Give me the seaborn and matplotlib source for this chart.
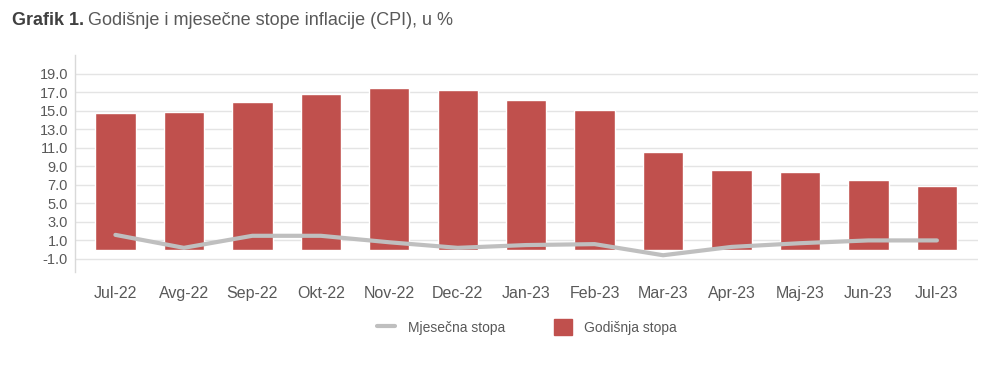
import matplotlib
matplotlib.use("Agg")
import matplotlib.pyplot as plt
import seaborn as sns
import pandas as pd
import numpy as np
from matplotlib.lines import Line2D
from matplotlib.patches import Patch

months = ["Jul-22", "Avg-22", "Sep-22", "Okt-22", "Nov-22", "Dec-22", "Jan-23",
          "Feb-23", "Mar-23", "Apr-23", "Maj-23", "Jun-23", "Jul-23"]
annual = [14.8, 14.9, 15.9, 16.8, 17.4, 17.2, 16.2, 15.1, 10.5, 8.6, 8.4, 7.5, 6.9]
monthly = [1.6, 0.2, 1.5, 1.5, 0.8, 0.2, 0.5, 0.6, -0.6, 0.3, 0.7, 1.0, 1.0]
yticks = [-1.0, 1.0, 3.0, 5.0, 7.0, 9.0, 11.0, 13.0, 15.0, 17.0, 19.0]

BAR = "#c0504d"
LINE = "#bfbfbf"
TXT = "#595959"

sns.set_theme(style="white")
plt.rcParams["font.family"] = ["Liberation Sans", "DejaVu Sans"]

df = pd.DataFrame({"month": months, "annual": annual, "monthly": monthly,
                   "pos": np.arange(len(months))})

fig = plt.figure(figsize=(10, 3.65), dpi=100)
ax = fig.add_axes([0.075, 0.255, 0.903, 0.594])

# light horizontal grid behind everything
ax.set_axisbelow(True)
for t in yticks:
    ax.axhline(t, color="#e4e4e4", lw=1, zorder=0)

sns.barplot(data=df, x="month", y="annual", color=BAR, width=0.59,
            saturation=1, ax=ax, zorder=2)
sns.lineplot(data=df, x="pos", y="monthly", color=LINE, lw=3, ax=ax, zorder=3)

ax.set_xlim(-0.59, 12.6)
ax.set_ylim(-2.4, 21)
ax.set_yticks(yticks)
ax.set_yticklabels([f"{v:.1f}" for v in yticks])
ax.set_xlabel("")
ax.set_ylabel("")
ax.tick_params(axis="x", length=0, labelsize=11.5, colors=TXT, pad=10)
ax.tick_params(axis="y", length=0, labelsize=10.5, colors=TXT, pad=5)
for s in ["top", "right", "bottom"]:
    ax.spines[s].set_visible(False)
ax.spines["left"].set_color("#d9d9d9")
ax.spines["left"].set_linewidth(1)

handles = [Line2D([0], [0], color=LINE, lw=3),
           Patch(facecolor=BAR, edgecolor=BAR)]
fig.legend(handles, ["Mjesečna stopa", "Godišnja stopa"], loc="center",
           bbox_to_anchor=(0.527, 0.104), ncol=2, frameon=False,
           fontsize=10, labelcolor=TXT, handlelength=1.3, handleheight=1.3,
           columnspacing=3.5, handletextpad=0.9)

# title: bold prefix + regular text
t1 = fig.text(0.012, 0.945, "Grafik 1.", fontsize=13, fontweight="bold",
              color="#404040", va="center", ha="left")
fig.canvas.draw()
bb = t1.get_window_extent()
x2 = fig.transFigure.inverted().transform((bb.x1 + 4, 0))[0]
fig.text(x2, 0.945, "Godišnje i mjesečne stope inflacije (CPI), u %",
         fontsize=13, color=TXT, va="center", ha="left")

fig.savefig("out.png", dpi=100)
